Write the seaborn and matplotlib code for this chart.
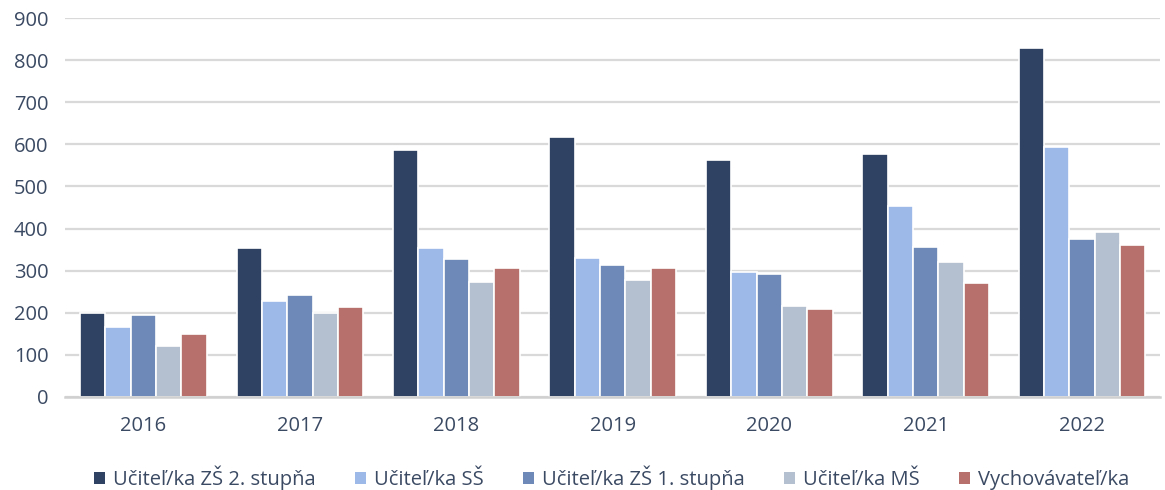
import matplotlib
matplotlib.use("Agg")
import matplotlib.pyplot as plt
import seaborn as sns
import pandas as pd
from matplotlib.patches import Patch

years = ["2016", "2017", "2018", "2019", "2020", "2021", "2022"]
series_names = ["Učiteľ/ka ZŠ 2. stupňa", "Učiteľ/ka SŠ", "Učiteľ/ka ZŠ 1. stupňa",
                "Učiteľ/ka MŠ", "Vychovávateľ/ka"]
zs2 = [200, 354, 587, 617, 563, 576, 830]
ss = [165, 229, 353, 330, 296, 453, 593]
zs1 = [194, 243, 327, 314, 292, 355, 376]
ms = [120, 199, 273, 277, 217, 321, 391]
vych = [150, 213, 306, 306, 209, 270, 361]
colors = ["#304263", "#9DB9E8", "#6E89B7", "#B4BFCF", "#B8706C"]

rows = []
for name, vals in zip(series_names, [zs2, ss, zs1, ms, vych]):
    for y, v in zip(years, vals):
        rows.append({"Rok": y, "Pozícia": name, "Počet": v})
df = pd.DataFrame(rows)

sns.set_theme(style="white")
plt.rcParams['font.family'] = ['Open Sans', 'DejaVu Sans']
text_color = "#3B4A63"

fig = plt.figure(figsize=(11.65, 4.9), dpi=100)
ax = fig.add_axes([0.056, 0.19, 0.94, 0.773])

sns.barplot(data=df, x="Rok", y="Počet", hue="Pozícia", order=years,
            hue_order=series_names, palette=colors, width=0.81,
            edgecolor="white", linewidth=1.2, saturation=1, ax=ax, legend=False)

ax.set_ylim(0, 900)
ax.set_yticks(range(0, 901, 100))
ax.set_xlim(-0.5, 6.5)
ax.yaxis.grid(True, color="#D9D9D9", linewidth=1.6)
ax.set_axisbelow(True)
for s in ["top", "right", "left"]:
    ax.spines[s].set_visible(False)
ax.spines["bottom"].set_color("#D0D0D0")
ax.spines["bottom"].set_linewidth(1.8)
ax.set_xlabel("")
ax.set_ylabel("")
ax.tick_params(axis="both", length=0, labelsize=14.5, colors=text_color)
ax.tick_params(axis="x", pad=14)
ax.tick_params(axis="y", pad=12)

handles = [Patch(facecolor=c, edgecolor="none") for c in colors]
fig.legend(handles, series_names, loc="center", bbox_to_anchor=(0.525, 0.025),
           ncol=5, frameon=False, fontsize=14.5, labelcolor=text_color,
           handlelength=0.55, handleheight=0.55, handletextpad=0.4, columnspacing=1.95)

fig.savefig("out.png", dpi=100, facecolor="white")
